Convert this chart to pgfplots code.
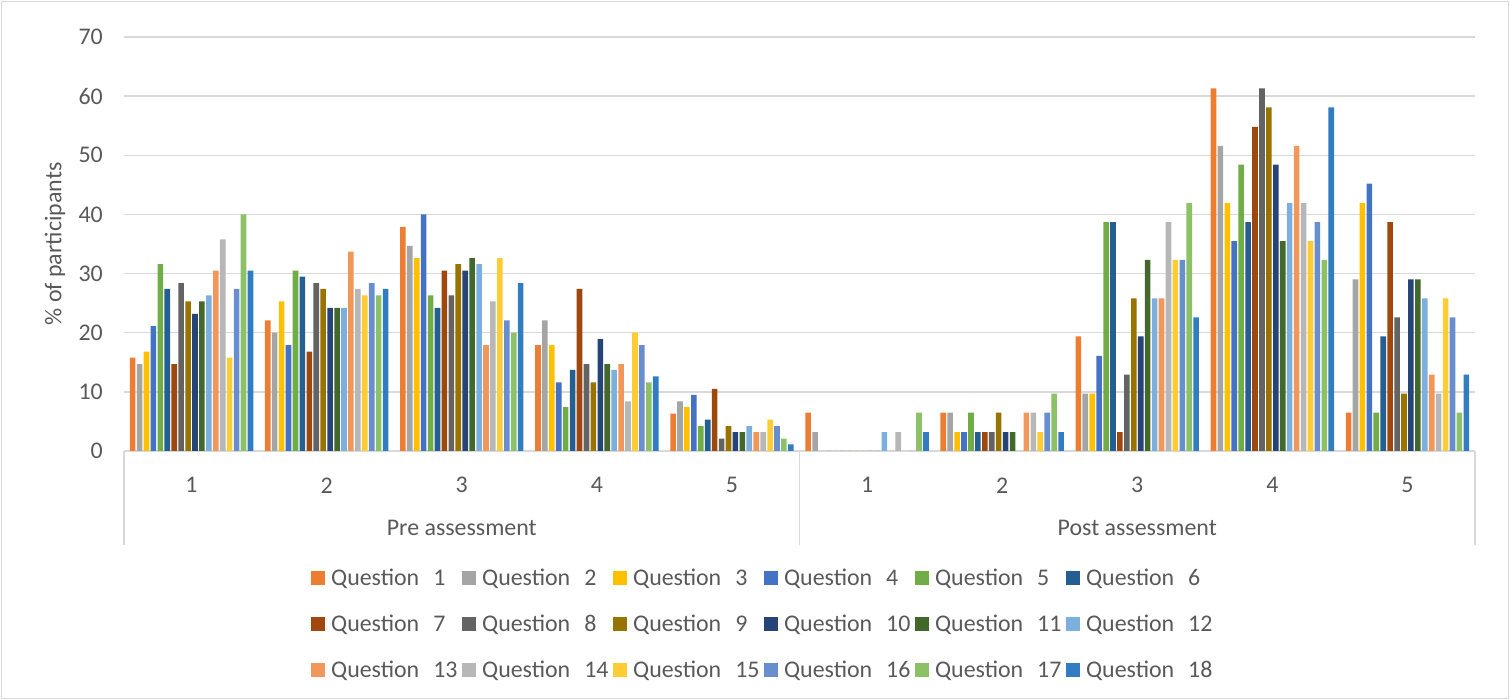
\documentclass[border=0pt]{standalone}
\usepackage{pgfplots}
\usepackage{pgfplotstable}
\pgfplotsset{compat=1.18}
\usepackage{fontspec}
\setmainfont{Carlito}
\definecolor{txt}{HTML}{595959}
\definecolor{grd}{HTML}{D9D9D9}
\definecolor{c1}{HTML}{ED7D31}
\definecolor{c2}{HTML}{A5A5A5}
\definecolor{c3}{HTML}{FFC000}
\definecolor{c4}{HTML}{4472C4}
\definecolor{c5}{HTML}{70AD47}
\definecolor{c6}{HTML}{255E91}
\definecolor{c7}{HTML}{9E480E}
\definecolor{c8}{HTML}{636363}
\definecolor{c9}{HTML}{997300}
\definecolor{c10}{HTML}{264478}
\definecolor{c11}{HTML}{43682B}
\definecolor{c12}{HTML}{7CAFDD}
\definecolor{c13}{HTML}{F1975A}
\definecolor{c14}{HTML}{B7B7B7}
\definecolor{c15}{HTML}{FFCD33}
\definecolor{c16}{HTML}{698ED0}
\definecolor{c17}{HTML}{8CC168}
\definecolor{c18}{HTML}{327DC2}
\pgfplotstableread{
x q1 q2 q3 q4 q5 q6 q7 q8 q9 q10 q11 q12 q13 q14 q15 q16 q17 q18
0 15.8 14.7 16.8 21.1 31.6 27.4 14.7 28.4 25.3 23.2 25.3 26.3 30.5 35.8 15.8 27.4 40.0 30.5
1 22.1 20.0 25.3 17.9 30.5 29.5 16.8 28.4 27.4 24.2 24.2 24.2 33.7 27.4 26.3 28.4 26.3 27.4
2 37.9 34.7 32.6 40.0 26.3 24.2 30.5 26.3 31.6 30.5 32.6 31.6 17.9 25.3 32.6 22.1 20.0 28.4
3 17.9 22.1 17.9 11.6 7.4 13.7 27.4 14.7 11.6 18.9 14.7 13.7 14.7 8.4 20.0 17.9 11.6 12.6
4 6.3 8.4 7.4 9.5 4.2 5.3 10.5 2.1 4.2 3.2 3.2 4.2 3.2 3.2 5.3 4.2 2.1 1.1
5 6.5 3.2 0 0 0 0 0 0 0 0 0 3.2 0 3.2 0 0 6.5 3.2
6 6.5 6.5 3.2 3.2 6.5 3.2 3.2 3.2 6.5 3.2 3.2 0 6.5 6.5 3.2 6.5 9.7 3.2
7 19.4 9.7 9.7 16.1 38.7 38.7 3.2 12.9 25.8 19.4 32.3 25.8 25.8 38.7 32.3 32.3 41.9 22.6
8 61.3 51.6 41.9 35.5 48.4 38.7 54.8 61.3 58.1 48.4 35.5 41.9 51.6 41.9 35.5 38.7 32.3 58.1
9 6.5 29.0 41.9 45.2 6.5 19.4 38.7 22.6 9.7 29.0 29.0 25.8 12.9 9.7 25.8 22.6 6.5 12.9
}\data
\newcommand{\qq}[1]{\makebox[133bp][l]{\hspace{4bp}Question\hspace{14bp}#1}}
\begin{document}
\begin{tikzpicture}[x=1bp,y=1bp,font=\fontsize{24}{28}\selectfont]
\useasboundingbox (0,0) rectangle (1510,700);
\draw[grd, line width=1bp] (1.5,1.5) rectangle (1508.5,698.5);
\begin{axis}[
  at={(124bp,249bp)}, anchor=south west,
  scale only axis, width=1351bp, height=414bp,
  xmin=-0.5, xmax=9.5, ymin=0, ymax=70,
  ybar=1.33bp, bar width=5.6bp,
  legend image code/.code={\fill[#1] (0bp,-7bp) rectangle (14bp,7bp);},
  axis line style={draw=none}, tick style={draw=none},
  ytick={0,10,...,70}, ymajorgrids, grid style={grd, line width=1.3bp},
  xtick={0,...,9}, xticklabels={1,2,3,4,5,1,2,3,4,5},
  /pgf/number format/assume math mode=true,
  ticklabel style={text=txt, inner sep=0pt},
  yticklabel style={anchor=east, xshift=-21bp},
  xticklabel style={anchor=center, yshift=-30bp},
  ylabel={\% of participants},
  ylabel style={at={(axis description cs:-0.0511,0.5)}, anchor=center, text=txt, inner sep=0pt},
  clip=false,
  legend columns=6,
  legend style={draw=none, fill=none, at={(axis description cs:0.1362,-0.275)}, anchor=north west,
    text=txt, row sep=24bp, /tikz/every even column/.append style={column sep=0pt}},
  legend entries={\qq{1},\qq{2},\qq{3},\qq{4},\qq{5},\qq{6},\qq{7},\qq{8},\qq{9},\qq{10},\qq{11},\qq{12},\qq{13},\qq{14},\qq{15},\qq{16},\qq{17},\qq{18}},
]
\addplot[fill=c1, draw=none] table[x=x,y=q1] {\data};
\addplot[fill=c2, draw=none] table[x=x,y=q2] {\data};
\addplot[fill=c3, draw=none] table[x=x,y=q3] {\data};
\addplot[fill=c4, draw=none] table[x=x,y=q4] {\data};
\addplot[fill=c5, draw=none] table[x=x,y=q5] {\data};
\addplot[fill=c6, draw=none] table[x=x,y=q6] {\data};
\addplot[fill=c7, draw=none] table[x=x,y=q7] {\data};
\addplot[fill=c8, draw=none] table[x=x,y=q8] {\data};
\addplot[fill=c9, draw=none] table[x=x,y=q9] {\data};
\addplot[fill=c10, draw=none] table[x=x,y=q10] {\data};
\addplot[fill=c11, draw=none] table[x=x,y=q11] {\data};
\addplot[fill=c12, draw=none] table[x=x,y=q12] {\data};
\addplot[fill=c13, draw=none] table[x=x,y=q13] {\data};
\addplot[fill=c14, draw=none] table[x=x,y=q14] {\data};
\addplot[fill=c15, draw=none] table[x=x,y=q15] {\data};
\addplot[fill=c16, draw=none] table[x=x,y=q16] {\data};
\addplot[fill=c17, draw=none] table[x=x,y=q17] {\data};
\addplot[fill=c18, draw=none] table[x=x,y=q18] {\data};
\draw[grd, line width=1.3bp] (axis description cs:0,0) -- (axis description cs:0,-0.227);
\draw[grd, line width=1.3bp] (axis description cs:0.5,0) -- (axis description cs:0.5,-0.227);
\draw[grd, line width=1.3bp] (axis description cs:1,0) -- (axis description cs:1,-0.227);
\node[text=txt, anchor=center] at (axis description cs:0.25,-0.186) {Pre assessment};
\node[text=txt, anchor=center] at (axis description cs:0.75,-0.186) {Post assessment};
\end{axis}
\end{tikzpicture}
\end{document}
